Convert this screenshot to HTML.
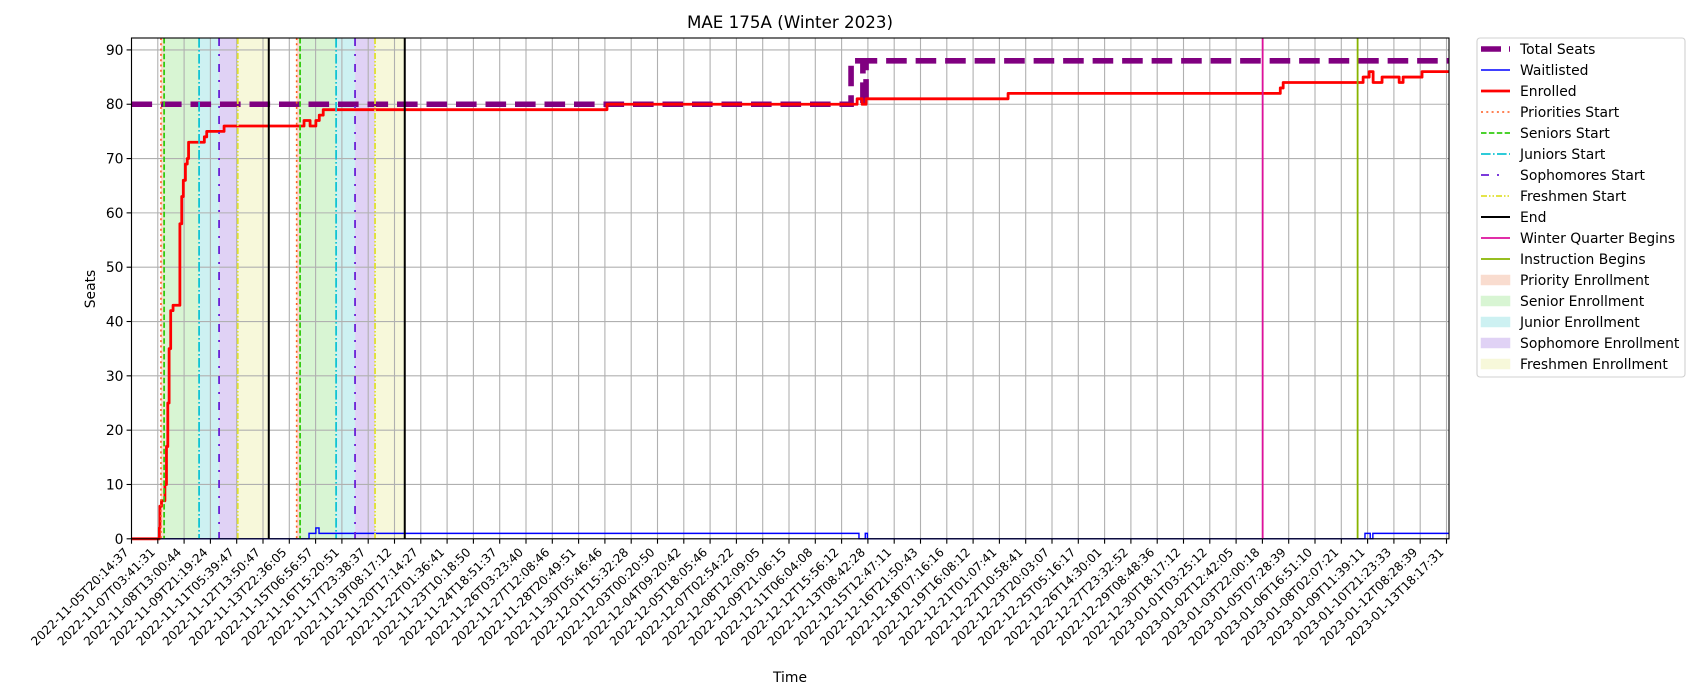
<!DOCTYPE html>
<html><head><meta charset="utf-8"><style>
html,body{margin:0;padding:0;background:#fff;}
svg{display:block;font-family:"DejaVu Sans","Liberation Sans",sans-serif;}
</style></head><body>
<svg id="chart" width="1700" height="700" viewBox="0 0 1700 700">
<rect x="0" y="0" width="1700" height="700" fill="#fff"/>
<g id="fills"></g>
<g id="grid"></g>
<g id="series"></g>
<g id="vlines"></g>
<rect x="131.5" y="38" width="1317.5" height="500.8" fill="none" stroke="#000" stroke-width="1.1"/>
<g id="axes"></g>
<text x="790" y="28" font-size="16.7" text-anchor="middle">MAE 175A (Winter 2023)</text>
<text x="0" y="0" font-size="13.9" text-anchor="middle" transform="translate(95,289) rotate(-90)">Seats</text>
<text x="790" y="682" font-size="13.9" text-anchor="middle">Time</text>
<g id="legend"></g>
</svg>
<script>
// ---- data ----
const tickLabels = ["2022-11-05T20:14:37","2022-11-07T03:41:31","2022-11-08T13:00:44","2022-11-09T21:19:24","2022-11-11T05:39:47","2022-11-12T13:50:47","2022-11-13T22:36:05","2022-11-15T06:56:57","2022-11-16T15:20:51","2022-11-17T23:38:37","2022-11-19T08:17:12","2022-11-20T17:14:27","2022-11-22T01:36:41","2022-11-23T10:18:50","2022-11-24T18:51:37","2022-11-26T03:23:40","2022-11-27T12:08:46","2022-11-28T20:49:51","2022-11-30T05:46:46","2022-12-01T15:32:28","2022-12-03T00:20:50","2022-12-04T09:20:42","2022-12-05T18:05:46","2022-12-07T02:54:22","2022-12-08T12:09:05","2022-12-09T21:06:15","2022-12-11T06:04:08","2022-12-12T15:56:12","2022-12-13T08:42:28","2022-12-15T12:47:11","2022-12-16T21:50:43","2022-12-18T07:16:16","2022-12-19T16:08:12","2022-12-21T01:07:41","2022-12-22T10:58:41","2022-12-23T20:03:07","2022-12-25T05:16:17","2022-12-26T14:30:01","2022-12-27T23:32:52","2022-12-29T08:48:36","2022-12-30T18:17:12","2023-01-01T03:25:12","2023-01-02T12:42:05","2023-01-03T22:00:18","2023-01-05T07:28:39","2023-01-06T16:51:10","2023-01-08T02:07:21","2023-01-09T11:39:11","2023-01-10T21:23:33","2023-01-12T08:28:39","2023-01-13T18:17:31"];
const yTicks = [0,10,20,30,40,50,60,70,80,90];
// step series: time (in tick-index units) and value
const enrolledT = [0,1.06,1.08,1.14,1.27,1.33,1.38,1.43,1.49,1.58,1.84,1.91,1.97,2.05,2.12,2.17,2.77,2.86,3.52,6.47,6.56,6.79,7.01,7.14,7.29,18.08,27.59,27.78,27.93,33.33,43.68,43.79,46.83,47.06,47.21,47.55,48.2,48.35,49.07];
const enrolledV = [0,2,6,7,10,17,25,35,42,43,58,63,66,69,70,73,74,75,76,76,77,76,77,78,79,80,81,80,81,82,83,84,85,86,84,85,84,85,86];
const totalT = [0,27.36,27.81,27.93];
const totalV = [80,88,80,88];
const waitT = [0,6.75,7.01,7.13,27.66,27.9,27.98,46.9,47.1,47.2];
const waitV = [0,1,2,1,0,1,0,1,0,1];
const endT = 50.1;
// event times (tick-index units): two registration passes
const priorityStart = [1.12,6.28];
const seniorStart = [1.24,6.41];
const juniorStart = [2.57,7.78];
const sophStart = [3.33,8.5];
const freshStart = [4.04,9.26];
const endTimes = [5.22,10.39];
const winterBegins = [43.01];
const instructionBegins = [46.62];

// ---- scales ----
const X0=131.5, XW=26.3, Y0=538.8, YU=5.432, XR=1449, YT=38;
const xs=t=>X0+t*XW, ys=v=>Y0-v*YU;
const NS="http://www.w3.org/2000/svg";
function mk(tag,attrs,parent){const e=document.createElementNS(NS,tag);for(const k in attrs)e.setAttribute(k,attrs[k]);parent.appendChild(e);return e;}

// fills
const fills=document.getElementById('fills');
const fillCols=['#f9dccf','#d8f5d3','#cdf1f2','#e0d2f5','#f7f8da'];
for(let p=0;p<2;p++){
  const b=[priorityStart[p],seniorStart[p],juniorStart[p],sophStart[p],freshStart[p],endTimes[p]];
  const names=['priority','senior','junior','sophomore','freshmen'];
  for(let i=0;i<5;i++){
    const r=mk('rect',{x:xs(b[i]),y:YT,width:xs(b[i+1])-xs(b[i]),height:Y0-YT,fill:fillCols[i]},fills);
    
    
  }
}
// grid
const grid=document.getElementById('grid');
tickLabels.forEach((l,i)=>{const g=mk('line',{x1:xs(i),x2:xs(i),y1:YT,y2:Y0,stroke:'#b0b0b0','stroke-width':1.1},grid);
  
  });
yTicks.forEach(v=>{const g=mk('line',{x1:X0,x2:XR,y1:ys(v),y2:ys(v),stroke:'#b0b0b0','stroke-width':1.1},grid);
  
  });

// series
function stepPath(T,V){let d='M'+xs(T[0])+','+ys(V[0]);for(let i=1;i<T.length;i++){d+=' H'+xs(T[i])+' V'+ys(V[i]);}d+=' H'+xs(endT);return d;}
const series=document.getElementById('series');
const ts=mk('path',{d:stepPath(totalT,totalV),fill:'none',stroke:'#800080','stroke-width':5.6,'stroke-dasharray':'20.6,8.9'},series);


const wl=mk('path',{d:stepPath(waitT,waitV),fill:'none',stroke:'#0000ff','stroke-width':1.4},series);


const en=mk('path',{d:stepPath(enrolledT,enrolledV),fill:'none',stroke:'#ff0000','stroke-width':2.8,'stroke-linejoin':'round'},series);



// vertical event lines
const vl=document.getElementById('vlines');
const vstyles=[
  [priorityStart,'#ff5a1f','2,3.3','priorities-start-line',1.6],
  [seniorStart,'#33cc11','5.5,2.4','seniors-start-line',1.8],
  [juniorStart,'#11c4d4','9.6,2.4,1.6,2.4','juniors-start-line',1.8],
  [sophStart,'#6a1fd6','8,8,2,8','sophomores-start-line',1.8],
  [freshStart,'#e0e030','6,2,1.5,2,1.5,2','freshmen-start-line',1.8],
  [endTimes,'#000000','','end-line',2],
  [winterBegins,'#dd119b','','winter-quarter-begins-line',1.8],
  [instructionBegins,'#88b400','','instruction-begins-line',1.8]];
vstyles.forEach(s=>{s[0].forEach(t=>{const a={x1:xs(t),x2:xs(t),y1:YT,y2:Y0,stroke:s[1],'stroke-width':s[4]};if(s[2])a['stroke-dasharray']=s[2];
  const l=mk('line',a,vl);
  
  });});

// axes ticks/labels
const ax=document.getElementById('axes');
tickLabels.forEach((lab,i)=>{const x=xs(i);
  const tk=mk('line',{x1:x,x2:x,y1:Y0,y2:Y0+4.9,stroke:'#000','stroke-width':1.1},ax);
  
  
  const px=x-2, py=553;
  const t=mk('text',{x:px,y:py,'font-size':12.1,'text-anchor':'end',transform:`rotate(-45 ${px} ${py})`},ax);
  t.textContent=lab;
  
  });
yTicks.forEach(v=>{const y=ys(v);
  const tk=mk('line',{x1:X0-4.9,x2:X0,y1:y,y2:y,stroke:'#000','stroke-width':1.1},ax);
  
  
  const t=mk('text',{x:X0-8,y:y+5,'font-size':13.9,'text-anchor':'end'},ax);
  t.textContent=String(v);
  
  });

// legend
const lg=document.getElementById('legend');
mk('rect',{x:1477,y:38,width:208,height:339,rx:3,fill:'#fff',stroke:'#d0d0d0','stroke-width':1.1},lg);
const entries=[
 ['Total Seats','line','#800080',5.6,'20,8'],
 ['Waitlisted','line','#0000ff',1.4,''],
 ['Enrolled','line','#ff0000',2.8,''],
 ['Priorities Start','line','#ff5a1f',1.6,'2,3.3'],
 ['Seniors Start','line','#33cc11',1.8,'5.5,2.4'],
 ['Juniors Start','line','#11c4d4',1.8,'9.6,2.4,1.6,2.4'],
 ['Sophomores Start','line','#6a1fd6',1.8,'8,8,2,20'],
 ['Freshmen Start','line','#e0e030','1.8','6,2,1.5,2,1.5,2'],
 ['End','line','#000000',2,''],
 ['Winter Quarter Begins','line','#dd119b',1.8,''],
 ['Instruction Begins','line','#88b400',1.8,''],
 ['Priority Enrollment','patch','#f9dccf'],
 ['Senior Enrollment','patch','#d8f5d3'],
 ['Junior Enrollment','patch','#cdf1f2'],
 ['Sophomore Enrollment','patch','#e0d2f5'],
 ['Freshmen Enrollment','patch','#f7f8da']];
entries.forEach((e,i)=>{const y=49+i*21;
  const g=mk('g',{},lg);
  
  
  if(e[1]==='line'){const a={x1:1481,x2:1510,y1:y,y2:y,stroke:e[2],'stroke-width':e[3]};if(e[4])a['stroke-dasharray']=e[4];mk('line',a,g);}
  else mk('rect',{x:1481,y:y-5,width:29,height:10,fill:e[2],stroke:e[2],'stroke-width':0.5},g);
  const t=mk('text',{x:1520,y:y+5,'font-size':13.9},g);t.textContent=e[0];});
</script>
</body></html>
